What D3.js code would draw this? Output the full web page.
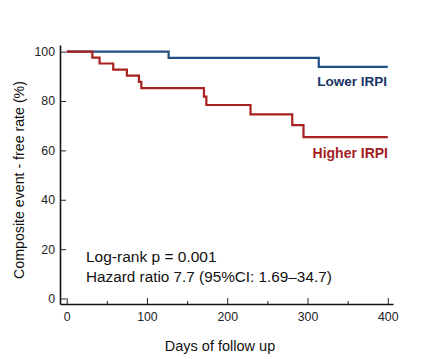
<!DOCTYPE html>
<html><head><meta charset="utf-8">
<script src="https://cdn.jsdelivr.net/npm/d3@7"></script>
<style>body{margin:0;background:#fff}text{font-family:"Liberation Sans",Arial,sans-serif}</style>
</head><body><svg id="c" width="440" height="359"></svg>
<script>
const lowerTimes = [0, 127, 314, 400];
const lowerSurv  = [100, 97.5, 93.8, 93.8];
const higherTimes = [0, 32, 41, 58, 75, 90, 93, 171, 174, 229, 281, 295, 400];
const higherSurv  = [100, 97.6, 95.2, 92.7, 90.3, 87.8, 85.2, 81.8, 78.4, 74.6, 70.2, 65.4, 65.4];
const xTicks = [0, 100, 200, 300, 400];
const xMinor = [50, 150, 250, 350];
const yTicks = [0, 20, 40, 60, 80, 100];

const svg = d3.select("#c");
const x = d3.scaleLinear().domain([-8.3, 406.5]).range([60, 393]);
const y = d3.scaleLinear().domain([-2.23, 102.7]).range([304, 45]);

const line = d3.line().x(d => x(d[0])).y(d => y(d[1])).curve(d3.curveStepAfter);
const zip = (t, s) => t.map((v, i) => [v, s[i]]);

svg.append("path").datum(zip(lowerTimes, lowerSurv)).attr("d", line)
  .attr("fill", "none").attr("stroke", "#1f4f82").attr("stroke-width", 2.2);
svg.append("path").datum(zip(higherTimes, higherSurv)).attr("d", line)
  .attr("fill", "none").attr("stroke", "#a8201f").attr("stroke-width", 2.2);

const xa = svg.append("g").attr("transform", "translate(0,304)")
  .call(d3.axisBottom(x).tickValues(xTicks).tickSize(-6).tickSizeOuter(0).tickPadding(8));
const xm = svg.append("g").attr("transform", "translate(0,304)")
  .call(d3.axisBottom(x).tickValues(xMinor).tickSize(-3).tickSizeOuter(0).tickFormat(""));
xm.select(".domain").remove();
const ya = svg.append("g").attr("transform", "translate(60,0)")
  .call(d3.axisLeft(y).tickValues(yTicks).tickSize(-6).tickSizeOuter(0).tickPadding(5));

[xa, xm, ya].forEach(g => {
  g.select(".domain").attr("stroke", "#111").attr("stroke-width", 1.6);
  g.selectAll(".tick line").attr("stroke", "#222").attr("stroke-width", 1);
  g.selectAll(".tick text").attr("font-size", 12.3).attr("fill", "#222")
    .style("font-family", '"Liberation Sans",Arial,sans-serif');
});

svg.append("text").attr("x", 387).attr("y", 86).attr("text-anchor", "end")
  .attr("font-size", 13.5).attr("font-weight", "bold").attr("fill", "#1a3466").text("Lower IRPI");
svg.append("text").attr("x", 388).attr("y", 158).attr("text-anchor", "end")
  .attr("font-size", 14).attr("font-weight", "bold").attr("fill", "#a31d22").text("Higher IRPI");

svg.append("text").attr("x", 86).attr("y", 262).attr("font-size", 15.5).attr("fill", "#111").text("Log-rank p = 0.001");
svg.append("text").attr("x", 86).attr("y", 282).attr("font-size", 15.3).attr("fill", "#111").text("Hazard ratio 7.7 (95%CI: 1.69–34.7)");

svg.append("text").attr("x", 220).attr("y", 351).attr("text-anchor", "middle")
  .attr("font-size", 14.5).attr("fill", "#111").text("Days of follow up");
svg.append("text").attr("transform", "translate(24,180) rotate(-90)").attr("text-anchor", "middle")
  .attr("font-size", 14.2).attr("fill", "#111").text("Composite event - free rate (%)");
</script></body></html>
